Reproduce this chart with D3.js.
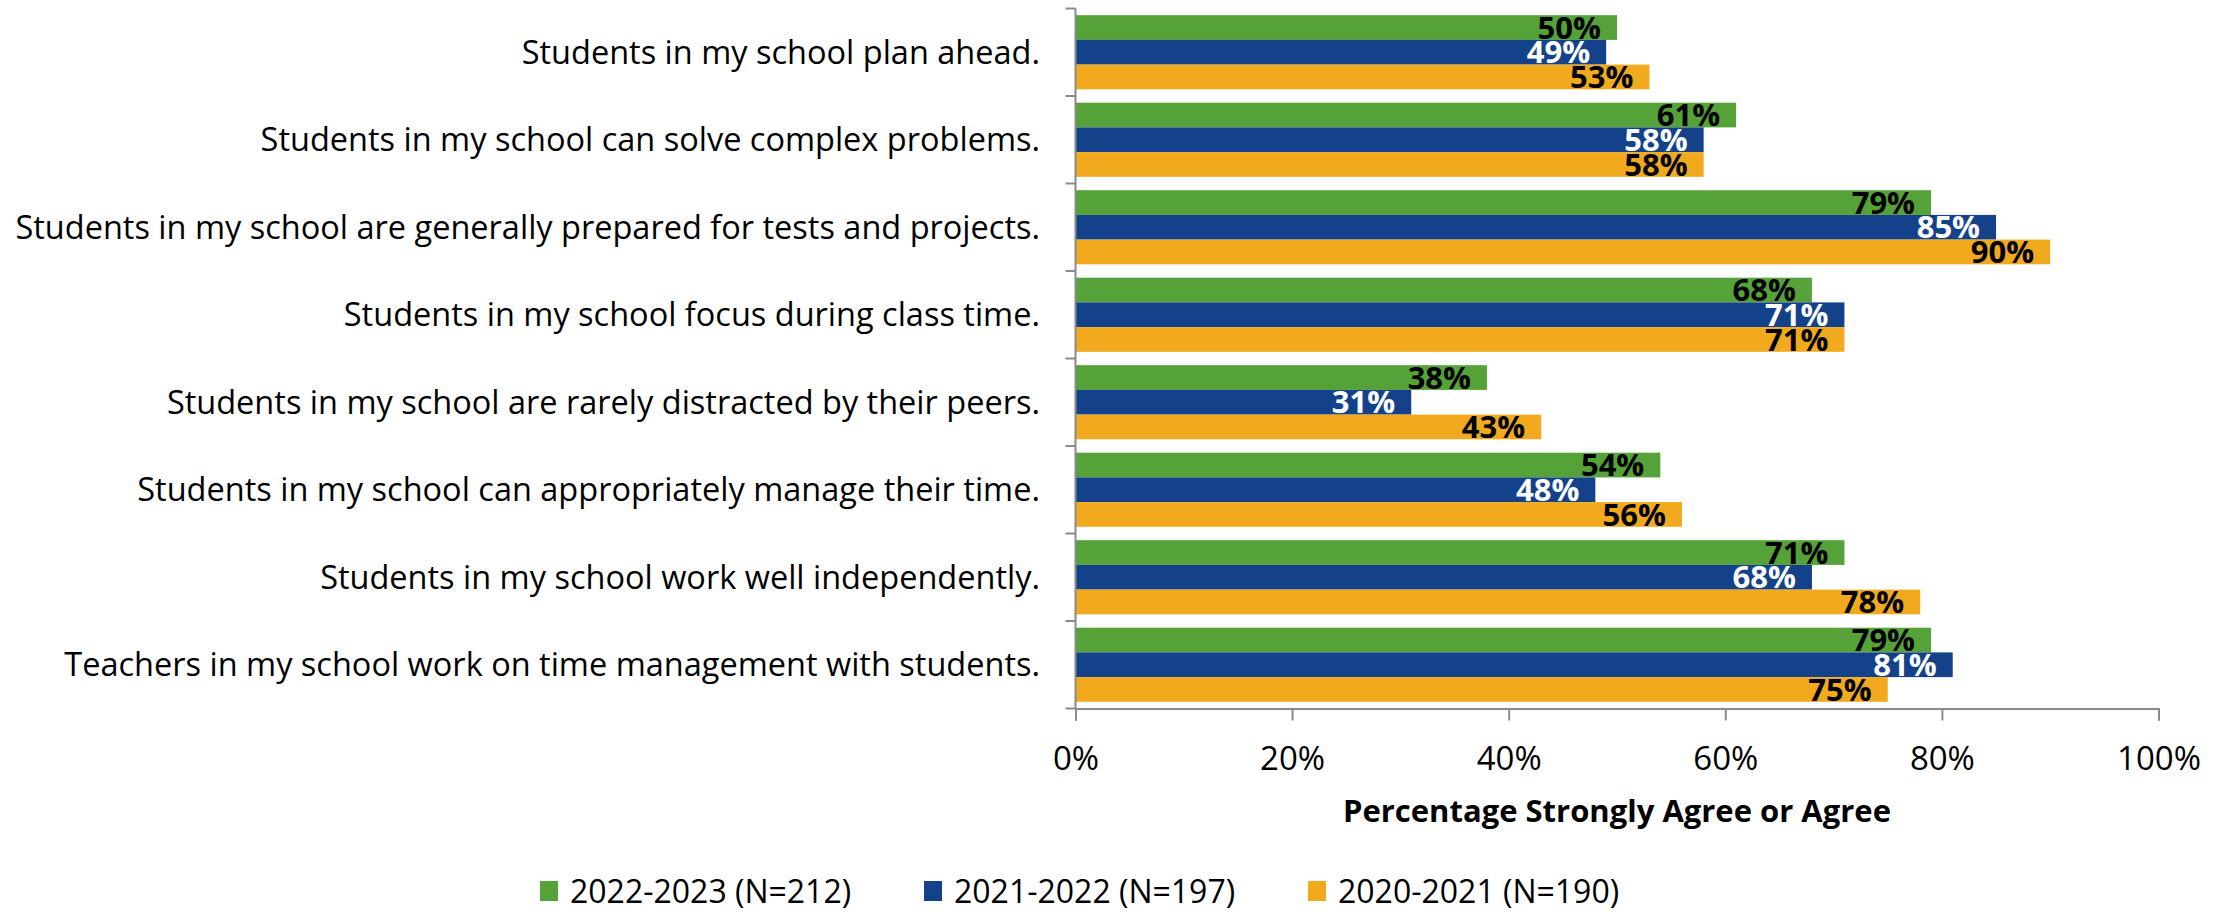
<!DOCTYPE html>
<html>
<head>
<meta charset="utf-8">
<script src="https://cdn.jsdelivr.net/npm/d3@7"></script>
<style>
  body { margin: 0; background: #fff; }
  text { font-family: "Open Sans", "Noto Sans", sans-serif; }
</style>
</head>
<body>
<div id="chart"></div>
<script>
// survey items, top to bottom
var statements = [
  "Students in my school plan ahead.",
  "Students in my school can solve complex problems.",
  "Students in my school are generally prepared for tests and projects.",
  "Students in my school focus during class time.",
  "Students in my school are rarely distracted by their peers.",
  "Students in my school can appropriately manage their time.",
  "Students in my school work well independently.",
  "Teachers in my school work on time management with students."
]
var seriesNames = ["2022-2023 (N=212)", "2021-2022 (N=197)", "2020-2021 (N=190)"]
var values2223 = [50, 61, 79, 68, 38, 54, 71, 79]
var values2122 = [49, 58, 85, 71, 31, 48, 68, 81]
var values2021 = [53, 58, 90, 71, 43, 56, 78, 75]
var xTicks = [0, 20, 40, 60, 80, 100]
var axisTitle = "Percentage Strongly Agree or Agree"

var colors = ["#54A238", "#14428A", "#F1AA1E"]
var labelColors = ["#000", "#fff", "#000"]
var seriesValues = [values2223, values2122, values2021]

var width = 2234
var height = 915
// note: "top" is taken by window.top, so use plot* names
var plotLeft = 1075.5, plotRight = 2158.5, plotTop = 8.5, plotBottom = 708.5

var svg = d3.select("#chart").append("svg")
  .attr("width", width)
  .attr("height", height)

var x = d3.scaleLinear().domain([0, 100]).range([plotLeft, plotRight])
var y0 = d3.scaleBand().domain(statements).range([plotTop, plotBottom])
var gap = 6.7
var y1 = d3.scaleBand().domain(d3.range(seriesNames.length))
  .range([gap, y0.bandwidth() - gap])

var rows = statements.map(function (s, i) {
  return { name: s, vals: seriesValues.map(function (v) { return v[i] }) }
})

var groups = svg.selectAll("g.row")
  .data(rows)
  .enter()
  .append("g")
  .attr("class", "row")
  .attr("transform", function (d) { return "translate(0," + y0(d.name) + ")" })

groups.selectAll("rect")
  .data(function (d) { return d.vals })
  .enter()
  .append("rect")
  .attr("x", x(0))
  .attr("y", function (d, i) { return y1(i) })
  .attr("width", function (d) { return x(d) - x(0) })
  .attr("height", y1.bandwidth())
  .attr("fill", function (d, i) { return colors[i] })

groups.selectAll("text.val")
  .data(function (d) { return d.vals })
  .enter()
  .append("text")
  .attr("class", "val")
  .attr("x", function (d) { return x(d) - 16 })
  .attr("y", function (d, i) { return y1(i) + y1.bandwidth() / 2 })
  .attr("dy", "0.36em")
  .attr("text-anchor", "end")
  .attr("font-size", 31)
  .attr("font-weight", "bold")
  .attr("fill", function (d, i) { return labelColors[i] })
  .text(function (d) { return d + "%" })

// category labels
svg.selectAll("text.cat")
  .data(statements)
  .enter()
  .append("text")
  .attr("class", "cat")
  .attr("x", 1040)
  .attr("y", function (d) { return y0(d) + y0.bandwidth() / 2 })
  .attr("dy", "0.36em")
  .attr("text-anchor", "end")
  .attr("font-size", 32.5)
  .attr("fill", "#000")
  .text(function (d) { return d })

// axes
var axisColor = "#8a8a8a"
var bounds = statements.map(function (s) { return y0(s) }).concat([plotBottom])
svg.append("line")
  .attr("x1", plotLeft).attr("x2", plotLeft)
  .attr("y1", plotTop).attr("y2", plotBottom)
  .attr("stroke", axisColor).attr("stroke-width", 2)
svg.selectAll("line.ytick")
  .data(bounds)
  .enter()
  .append("line")
  .attr("class", "ytick")
  .attr("x1", plotLeft - 10).attr("x2", plotLeft)
  .attr("y1", function (d) { return d }).attr("y2", function (d) { return d })
  .attr("stroke", axisColor).attr("stroke-width", 2)

var xAxis = svg.append("g")
  .attr("transform", "translate(0," + plotBottom + ")")
  .call(d3.axisBottom(x).tickValues(xTicks).tickSize(12).tickPadding(26)
    .tickFormat(function (d) { return d + "%" }))
xAxis.select(".domain").attr("stroke", axisColor).attr("stroke-width", 2)
xAxis.selectAll(".tick line").attr("stroke", axisColor).attr("stroke-width", 2)
xAxis.selectAll(".tick text")
  .attr("font-size", 33)
  .attr("fill", "#000")
  .style("font-family", "'Open Sans', sans-serif")

svg.append("text")
  .attr("x", (plotLeft + plotRight) / 2)
  .attr("y", 811)
  .attr("dy", "0.36em")
  .attr("text-anchor", "middle")
  .attr("font-size", 31)
  .attr("font-weight", "bold")
  .text(axisTitle)

// legend
var legendX = [540, 924, 1308]
var legend = svg.selectAll("g.legend")
  .data(seriesNames)
  .enter()
  .append("g")
  .attr("class", "legend")
  .attr("transform", function (d, i) { return "translate(" + legendX[i] + ",891)" })
legend.append("rect")
  .attr("x", 0).attr("y", -10)
  .attr("width", 18).attr("height", 20)
  .attr("fill", function (d, i) { return colors[i] })
legend.append("text")
  .attr("x", 30)
  .attr("dy", "0.36em")
  .attr("font-size", 32)
  .text(function (d) { return d })
</script>
</body>
</html>
